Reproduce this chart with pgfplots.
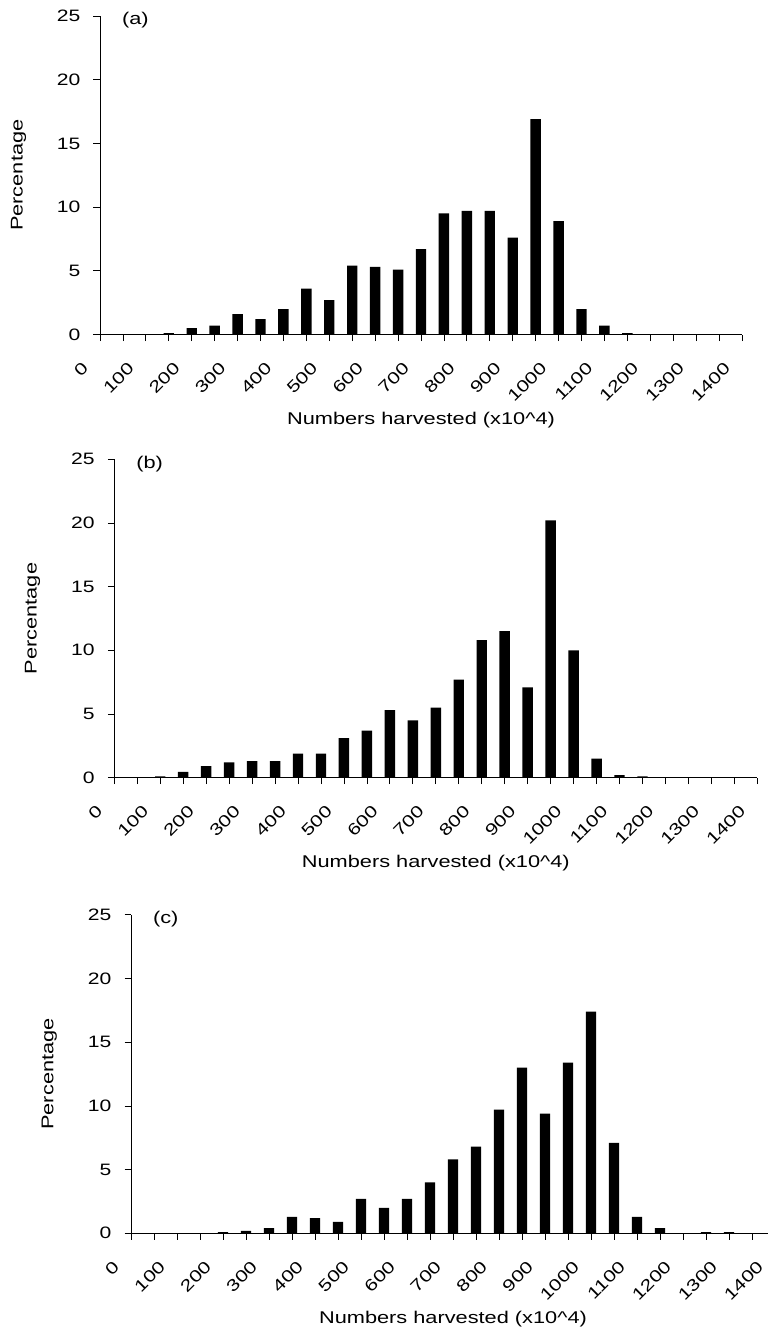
\documentclass[border=0pt]{standalone}
\usepackage{fontspec}
\setmainfont{Liberation Sans}[FakeStretch=1.28]
\usepackage{pgfplots}
\usepackage{pgfplotstable}
\pgfplotsset{compat=1.18}

\pgfplotstableread{
x y
150 0.1
200 0.5
250 0.7
300 1.6
350 1.2
400 2.0
450 3.6
500 2.7
550 5.4
600 5.3
650 5.1
700 6.7
750 9.5
800 9.7
850 9.7
900 7.6
950 16.9
1000 8.9
1050 2.0
1100 0.7
1150 0.1
}\dataA
\pgfplotstableread{
x y
100 0.1
150 0.45
200 0.9
250 1.2
300 1.3
350 1.3
400 1.9
450 1.9
500 3.1
550 3.7
600 5.3
650 4.5
700 5.5
750 7.7
800 10.8
850 11.5
900 7.1
950 20.2
1000 10.0
1050 1.5
1100 0.2
1150 0.1
}\dataB
\pgfplotstableread{
x y
200 0.1
250 0.2
300 0.4
350 1.3
400 1.2
450 0.9
500 2.7
550 2.0
600 2.7
650 4.0
700 5.8
750 6.8
800 9.7
850 13.0
900 9.4
950 13.4
1000 17.4
1050 7.1
1100 1.3
1150 0.4
1250 0.1
1300 0.1
}\dataC

\pgfplotsset{
  panel/.style={
    scale only axis,
    clip mode=individual,
    height=318.5pt,
    xmin=0, xmax=1400, ymin=0, ymax=25,
    axis lines*=left,
    axis line style={black, line width=0.8pt},
    tick align=outside,
    major tick length=6.5pt,
    minor tick length=6.5pt,
    every tick/.style={black, line width=0.8pt},
    xtick={0,100,...,1400},
    minor xtick={50,150,...,1350},
    ytick={0,5,...,25},
    /pgf/number format/1000 sep={},
    /pgf/number format/assume math mode=true,
    tick label style={font=\fontsize{16.5}{18}\selectfont},
    xticklabel style={xshift=-19pt, yshift=-20pt, rotate=45, anchor=north east, inner sep=0pt},
    yticklabel style={inner sep=0pt, xshift=-13pt},
    every axis y label/.style={at={(axis description cs:-0.127,0.5)}, rotate=90, anchor=center, font=\fontsize{17}{19}\selectfont},
    every axis x label/.style={at={(axis description cs:0.5,-0.268)}, anchor=center, font=\fontsize{17}{19}\selectfont},
    ylabel={Percentage},
    xlabel={Numbers harvested (x10\string^4)},
    ybar, bar width=22.7,
  },
  bars/.style={fill=black, draw=none},
}

\begin{document}
\begin{tikzpicture}
\begin{axis}[panel, width=642pt, at={(100pt,-334.5pt)}, anchor=south west]
\addplot[bars] table[x=x,y=y]{\dataA};
\node[anchor=west, inner sep=0pt, font=\fontsize{17}{19}\selectfont] at (axis description cs:0.034,0.986) {(a)};
\end{axis}
\begin{axis}[panel, width=643pt, at={(114.3pt,-777.7pt)}, anchor=south west]
\addplot[bars] table[x=x,y=y]{\dataB};
\node[anchor=west, inner sep=0pt, font=\fontsize{17}{19}\selectfont] at (axis description cs:0.034,0.986) {(b)};
\end{axis}
\begin{axis}[panel, width=644pt, at={(131pt,-1233.3pt)}, anchor=south west]
\addplot[bars] table[x=x,y=y]{\dataC};
\node[anchor=west, inner sep=0pt, font=\fontsize{17}{19}\selectfont] at (axis description cs:0.034,0.986) {(c)};
\end{axis}
\pgfresetboundingbox
\path[use as bounding box] (0,0) rectangle (768pt,-1331pt);
\end{tikzpicture}
\end{document}
